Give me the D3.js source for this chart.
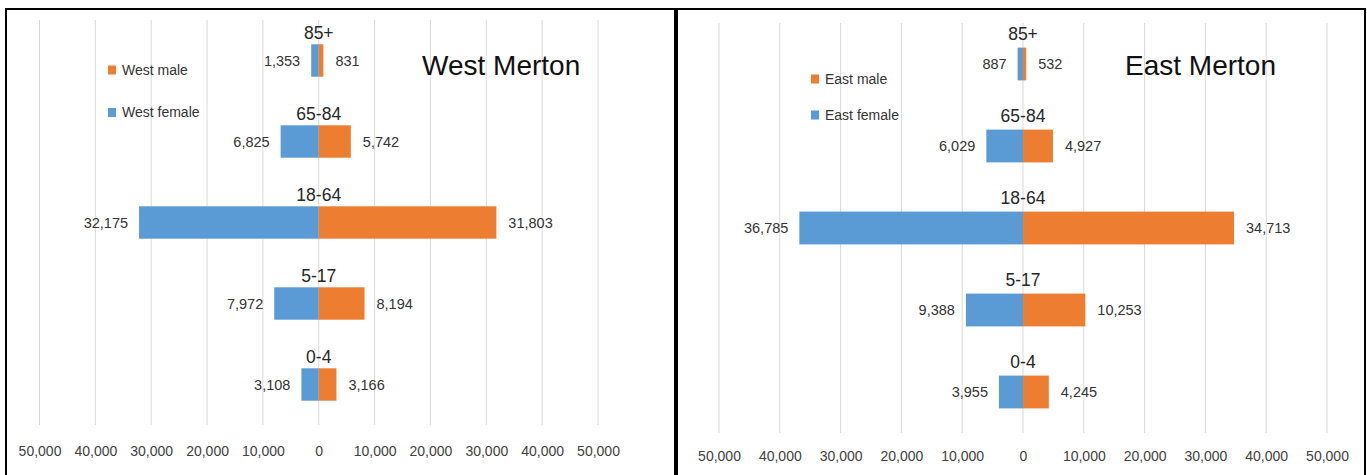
<!DOCTYPE html>
<html>
<head>
<meta charset="utf-8">
<script src="https://cdn.jsdelivr.net/npm/d3@7"></script>
<style>
  html, body { margin: 0; padding: 0; background: #fff; }
  svg { display: block; font-family: "Liberation Sans", Arial, sans-serif; }
</style>
</head>
<body>
<svg id="chart" width="1367" height="475"></svg>
<script>
// ---- data ----
const categories = ["85+", "65-84", "18-64", "5-17", "0-4"];
const westFemale = [1353, 6825, 32175, 7972, 3108];
const westMale   = [831, 5742, 31803, 8194, 3166];
const eastFemale = [887, 6029, 36785, 9388, 3955];
const eastMale   = [532, 4927, 34713, 10253, 4245];
const tickValues = [-50000, -40000, -30000, -20000, -10000, 0, 10000, 20000, 30000, 40000, 50000];
const westTitle = "West Merton";
const eastTitle = "East Merton";
const westLegend = ["West male", "West female"];
const eastLegend = ["East male", "East female"];

// ---- styles ----
const BLUE = "#5B9BD5", ORANGE = "#ED7D31";
const svg = d3.select("#chart");
const fmt = d3.format(",");

// panel layout (not data)
const panels = [
  { title: westTitle, legend: westLegend, female: westFemale, male: westMale,
    box: [6, 9, 675, 490], xr: [39.5, 598], yr: [20, 425], titleX: 422, titleY: 75,
    legX: 108, legY: [70, 112.5], axisY: 453, catOff: -28 },
  { title: eastTitle, legend: eastLegend, female: eastFemale, male: eastMale,
    box: [677, 9, 1365, 490], xr: [719, 1327], yr: [23, 433], titleX: 1125, titleY: 75,
    legX: 811, legY: [79, 115], axisY: 458, catOff: -30 }
];

panels.forEach(p => {
  const g = svg.append("g");
  const x = d3.scaleLinear().domain([-50000, 50000]).range(p.xr);
  const y = d3.scaleBand().domain(categories).range(p.yr).paddingInner(0.6).paddingOuter(0.3);

  // gridlines
  g.selectAll("line.grid").data(tickValues).join("line")
    .attr("class", "grid")
    .attr("x1", d => x(d)).attr("x2", d => x(d))
    .attr("y1", p.yr[0]).attr("y2", p.yr[1])
    .attr("stroke", "#d9d9d9").attr("stroke-width", 1);

  // axis labels (bottom, absolute values)
  const axis = d3.axisBottom(x).tickValues(tickValues).tickSize(0)
    .tickFormat(d => fmt(Math.abs(d)));
  const ag = g.append("g").attr("transform", `translate(0,${p.axisY - 7})`).call(axis);
  ag.select(".domain").remove();
  ag.selectAll("text").attr("fill", "#404040").attr("font-size", "14px")
    .attr("font-family", "Liberation Sans, Arial, sans-serif").attr("dy", "0.71em").attr("y", 0);

  const rows = categories.map((c, i) => ({ c, f: p.female[i], m: p.male[i] }));

  // female bars (left)
  g.selectAll("rect.f").data(rows).join("rect").attr("class", "f")
    .attr("x", d => x(-d.f)).attr("width", d => x(0) - x(-d.f))
    .attr("y", d => y(d.c)).attr("height", y.bandwidth())
    .attr("fill", BLUE);
  // male bars (right)
  g.selectAll("rect.m").data(rows).join("rect").attr("class", "m")
    .attr("x", x(0)).attr("width", d => x(d.m) - x(0))
    .attr("y", d => y(d.c)).attr("height", y.bandwidth())
    .attr("fill", ORANGE);

  // value labels
  g.selectAll("text.fv").data(rows).join("text").attr("class", "fv")
    .attr("x", d => x(-d.f) - 11).attr("y", d => y(d.c) + y.bandwidth() / 2)
    .attr("dy", "0.35em").attr("text-anchor", "end")
    .attr("font-size", "14.5px").attr("fill", "#333")
    .text(d => fmt(d.f));
  g.selectAll("text.mv").data(rows).join("text").attr("class", "mv")
    .attr("x", d => x(d.m) + 12).attr("y", d => y(d.c) + y.bandwidth() / 2)
    .attr("dy", "0.35em").attr("text-anchor", "start")
    .attr("font-size", "14.5px").attr("fill", "#333")
    .text(d => fmt(d.m));

  // category labels above bars
  g.selectAll("text.cat").data(rows).join("text").attr("class", "cat")
    .attr("x", x(0)).attr("y", d => y(d.c) + y.bandwidth() / 2 + p.catOff)
    .attr("dy", "0.35em").attr("text-anchor", "middle")
    .attr("font-size", "17.5px").attr("fill", "#262626")
    .text(d => d.c);

  // title
  g.append("text").attr("x", p.titleX).attr("y", p.titleY)
    .attr("font-size", "28px").attr("fill", "#111").text(p.title);

  // legend
  const legColors = [ORANGE, BLUE];
  p.legend.forEach((name, i) => {
    g.append("rect").attr("x", p.legX).attr("y", p.legY[i] - 4.5)
      .attr("width", 8).attr("height", 9).attr("fill", legColors[i]);
    g.append("text").attr("x", p.legX + 14).attr("y", p.legY[i])
      .attr("dy", "0.35em").attr("font-size", "14px").attr("fill", "#333").text(name);
  });

  // border
  svg.append("rect").attr("x", p.box[0]).attr("y", p.box[1])
    .attr("width", p.box[2] - p.box[0]).attr("height", p.box[3] - p.box[1])
    .attr("fill", "none").attr("stroke", "#000").attr("stroke-width", 2);
});
</script>
</body>
</html>
